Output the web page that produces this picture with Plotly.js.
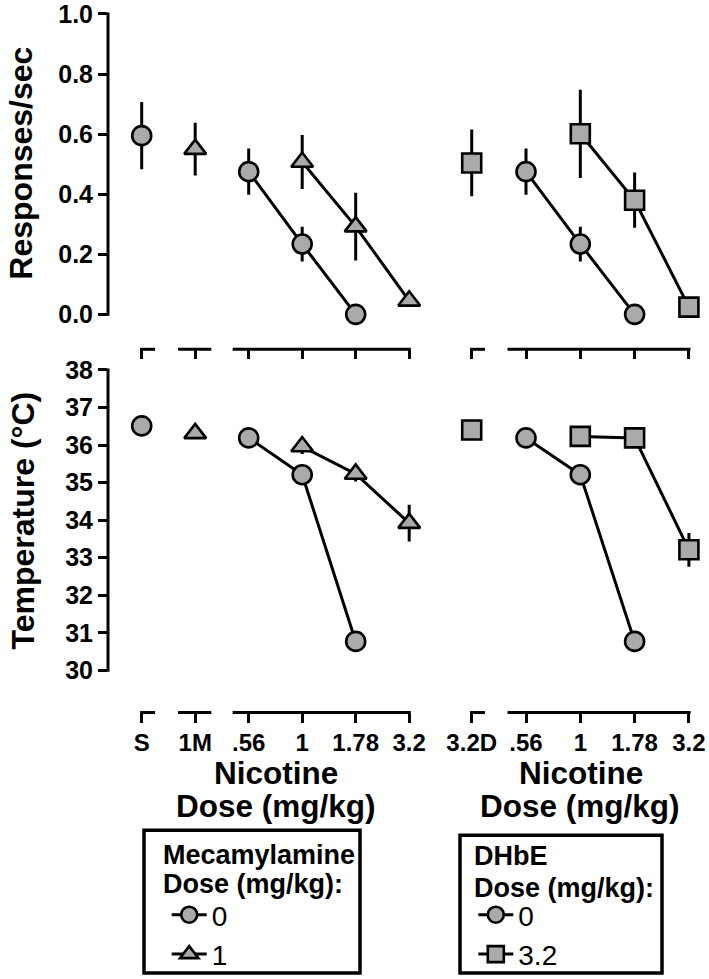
<!DOCTYPE html>
<html><head><meta charset="utf-8">
<script src="https://cdn.plot.ly/plotly-3.0.1.min.js"></script>
<style>html,body{margin:0;padding:0;background:#fff}</style>
</head><body><div id="chart" style="width:709px;height:979px"></div>
<script>
// ---------------- DATA ----------------
const leftCats  = ['S', '1M', '.56', '1', '1.78', '3.2'];
const rightCats = ['3.2D', '.56', '1', '1.78', '3.2'];

// Left panel: mecamylamine
const salineCats     = ['S'];
const salineRate     = [0.595];
const salineRateErr  = [0.112];
const salineTemp     = [36.51];
const salineTempErr  = [0.15];

const mecAloneCats    = ['1M'];
const mecAloneRate    = [0.55];
const mecAloneRateErr = [0.088];
const mecAloneTemp    = [36.31];
const mecAloneTempErr = [0.15];

const nicCats     = ['.56', '1', '1.78'];
const nicRate     = [0.475, 0.234, 0.0];
const nicRateErr  = [0.077, 0.058, 0.0];
const nicTemp     = [36.19, 35.21, 30.77];
const nicTempErr  = [0.15, 0.2, 0.2];

const nicMecCats    = ['1', '1.78', '3.2'];
const nicMecRate    = [0.507, 0.292, 0.045];
const nicMecRateErr = [0.09, 0.113, 0.0];
const nicMecTemp    = [35.96, 35.23, 33.92];
const nicMecTempErr = [0.2, 0.2, 0.49];

// Right panel: DHbE
const dhbeAloneCats    = ['3.2D'];
const dhbeAloneRate    = [0.504];
const dhbeAloneRateErr = [0.111];
const dhbeAloneTemp    = [36.40];
const dhbeAloneTempErr = [0.15];

const nicDhbeCats    = ['1', '1.78', '3.2'];
const nicDhbeRate    = [0.601, 0.38, 0.024];
const nicDhbeRateErr = [0.147, 0.092, 0.0];
const nicDhbeTemp    = [36.23, 36.19, 33.21];
const nicDhbeTempErr = [0.15, 0.15, 0.45];

const rateTicks = [0, 0.2, 0.4, 0.6, 0.8, 1.0];
const rateTickText = ['0.0', '0.2', '0.4', '0.6', '0.8', '1.0'];
const tempTicks = [30, 31, 32, 33, 34, 35, 36, 37, 38];

// ---------------- STYLE ----------------
const FONT = 'Liberation Sans, Arial, Helvetica, sans-serif';
const GRAY = '#aaaaaa';
const W = 709, H = 979;
const px = v => v / W;
const py = v => 1 - v / H;

const SYM = {
  circle:   {symbol: 'circle', size: 19},
  triangle: {symbol: 'triangle-up', size: 19},
  square:   {symbol: 'square', size: 19}
};

function trace(catList, cats, vals, errs, shape, xa, ya, mode, extra) {
  const t = {
    type: 'scatter',
    mode: mode,
    x: cats.map(c => catList.indexOf(c)),
    y: vals,
    xaxis: xa, yaxis: ya,
    cliponaxis: false,
    showlegend: false,
    line: {color: '#000', width: 3},
    marker: {symbol: SYM[shape].symbol, size: SYM[shape].size, color: GRAY,
             line: {color: '#000', width: 2.6}},
    error_y: {type: 'data', array: errs, visible: true, color: '#000', thickness: 3, width: 0}
  };
  return Object.assign(t, extra || {});
}

const data = [
  // top-left
  trace(leftCats, salineCats, salineRate, salineRateErr, 'circle', 'x', 'y', 'markers'),
  trace(leftCats, mecAloneCats, mecAloneRate, mecAloneRateErr, 'triangle', 'x', 'y', 'markers'),
  trace(leftCats, nicCats, nicRate, nicRateErr, 'circle', 'x', 'y', 'lines+markers',
        {showlegend: true, name: '0', legend: 'legend'}),
  trace(leftCats, nicMecCats, nicMecRate, nicMecRateErr, 'triangle', 'x', 'y', 'lines+markers',
        {showlegend: true, name: '1', legend: 'legend'}),
  // top-right
  trace(rightCats, dhbeAloneCats, dhbeAloneRate, dhbeAloneRateErr, 'square', 'x2', 'y2', 'markers'),
  trace(rightCats, nicCats, nicRate, nicRateErr, 'circle', 'x2', 'y2', 'lines+markers',
        {showlegend: true, name: '0', legend: 'legend2'}),
  trace(rightCats, nicDhbeCats, nicDhbeRate, nicDhbeRateErr, 'square', 'x2', 'y2', 'lines+markers',
        {showlegend: true, name: '3.2', legend: 'legend2'}),
  // bottom-left
  trace(leftCats, salineCats, salineTemp, salineTempErr, 'circle', 'x3', 'y3', 'markers'),
  trace(leftCats, mecAloneCats, mecAloneTemp, mecAloneTempErr, 'triangle', 'x3', 'y3', 'markers'),
  trace(leftCats, nicCats, nicTemp, nicTempErr, 'circle', 'x3', 'y3', 'lines+markers'),
  trace(leftCats, nicMecCats, nicMecTemp, nicMecTempErr, 'triangle', 'x3', 'y3', 'lines+markers'),
  // bottom-right
  trace(rightCats, dhbeAloneCats, dhbeAloneTemp, dhbeAloneTempErr, 'square', 'x4', 'y4', 'markers'),
  trace(rightCats, nicCats, nicTemp, nicTempErr, 'circle', 'x4', 'y4', 'lines+markers'),
  trace(rightCats, nicDhbeCats, nicDhbeTemp, nicDhbeTempErr, 'square', 'x4', 'y4', 'lines+markers')
];

// ---------------- LAYOUT ----------------
const topDom = [py(350), py(5)];
const botDom = [py(714), py(362)];
const leftDom = [px(108), px(430)];
const rightDom = [px(440), 1];
const leftRange = [-0.63, 5.389];
const rightRange = [-0.584, 4.37];
const rateRange = [-0.1163, 1.0299];
const tempRange = [28.876, 38.231];

function xAx(dom, rng, anchor, cats, labels) {
  return {
    domain: dom, range: rng, anchor: anchor, type: 'linear',
    tickmode: 'array', tickvals: cats.map((c, i) => i), ticktext: cats,
    showticklabels: labels, ticks: 'outside', ticklen: 9, tickwidth: 3, tickcolor: '#000',
    showline: false, showgrid: false, zeroline: false, fixedrange: true,
    ticklabeloverflow: 'allow',
    tickfont: {family: FONT, size: 24, color: '#000', weight: 'bold'}
  };
}
function yAx(dom, rng, anchor, vals, text, vis) {
  return {
    domain: dom, range: rng, anchor: anchor, visible: vis,
    tickmode: 'array', tickvals: vals, ticktext: text,
    ticks: 'outside', ticklen: 9, tickwidth: 3, tickcolor: '#000',
    showline: false, showgrid: false, zeroline: false, fixedrange: true,
    ticklabeloverflow: 'allow',
    tickfont: {family: FONT, size: 25, color: '#000', weight: 'bold'}
  };
}

const shapes = [];
function hseg(xref, yref, a, b) {
  shapes.push({type: 'line', xref: xref, yref: yref, x0: a, x1: b, y0: 0, y1: 0,
               line: {color: '#000', width: 3}});
}
[['x', 'y domain'], ['x3', 'y3 domain']].forEach(([xr, yr]) => {
  hseg(xr, yr, -0.03, 0.25);
  hseg(xr, yr, 0.68, 1.3);
  hseg(xr, yr, 1.7, 5.03);
});
[['x2', 'y2 domain'], ['x4', 'y4 domain']].forEach(([xr, yr]) => {
  hseg(xr, yr, -0.03, 0.245);
  hseg(xr, yr, 0.66, 4.03);
});
// y axis lines
shapes.push({type: 'line', xref: 'paper', yref: 'y', x0: px(108), x1: px(108),
             y0: rateTicks[0] - 0.005, y1: rateTicks[rateTicks.length - 1] + 0.005, line: {color: '#000', width: 3}});
shapes.push({type: 'line', xref: 'paper', yref: 'y3', x0: px(108), x1: px(108),
             y0: tempTicks[0] - 0.04, y1: tempTicks[tempTicks.length - 1] + 0.04, line: {color: '#000', width: 3}});
// legend boxes
shapes.push({type: 'rect', xref: 'paper', yref: 'paper', x0: px(144), x1: px(360), y0: py(975), y1: py(832),
             line: {color: '#000', width: 3.5}, fillcolor: 'rgba(0,0,0,0)'});
shapes.push({type: 'rect', xref: 'paper', yref: 'paper', x0: px(460), x1: px(662), y0: py(975), y1: py(837),
             line: {color: '#000', width: 3.5}, fillcolor: 'rgba(0,0,0,0)'});

function ann(text, x, y, size, opts) {
  return Object.assign({text: text, x: x, y: y, xref: 'paper', yref: 'paper', showarrow: false,
    xanchor: 'center', yanchor: 'middle',
    font: {family: FONT, size: size, color: '#000', weight: 'bold'}}, opts || {});
}

const annotations = [
  ann('Responses/sec', px(21), py(164), 32, {textangle: -90}),
  ann('Temperature (°C)', px(23), py(521.5), 32, {textangle: -90}),
  ann('Nicotine', px(275.5), py(775), 31.5),
  ann('Dose (mg/kg)', px(275.5), py(808), 31.5),
  ann('Nicotine', px(581), py(775), 31.5),
  ann('Dose (mg/kg)', px(580), py(808), 31.5),
  ann('Mecamylamine', px(161), py(857), 27, {xanchor: 'left'}),
  ann('Dose (mg/kg):', px(161), py(886), 27, {xanchor: 'left'}),
  ann('DHbE', px(472), py(858), 27, {xanchor: 'left'}),
  ann('Dose (mg/kg):', px(472), py(890), 27, {xanchor: 'left'})
];

function legendCfg(xLeft, yTop) {
  return {x: px(xLeft), y: py(yTop), xanchor: 'left', yanchor: 'top',
          bgcolor: 'rgba(0,0,0,0)', borderwidth: 0, itemwidth: 35, tracegroupgap: 0,
          traceorder: 'normal', itemclick: false, itemdoubleclick: false,
          font: {family: FONT, size: 28, color: '#000'}};
}

const layout = {
  width: W, height: H, autosize: false,
  margin: {l: 0, r: 0, t: 0, b: 0, pad: 0},
  paper_bgcolor: '#fff', plot_bgcolor: 'rgba(0,0,0,0)',
  showlegend: true,
  xaxis:  xAx(leftDom, leftRange, 'y', leftCats, false),
  xaxis2: xAx(rightDom, rightRange, 'y2', rightCats, false),
  xaxis3: xAx(leftDom, leftRange, 'y3', leftCats, true),
  xaxis4: xAx(rightDom, rightRange, 'y4', rightCats, true),
  yaxis:  yAx(topDom, rateRange, 'x', rateTicks, rateTickText, true),
  yaxis2: yAx(topDom, rateRange, 'x2', rateTicks, rateTickText, false),
  yaxis3: yAx(botDom, tempRange, 'x3', tempTicks, tempTicks.map(String), true),
  yaxis4: yAx(botDom, tempRange, 'x4', tempTicks, tempTicks.map(String), false),
  legend:  legendCfg(166.7, 892),
  legend2: legendCfg(473.3, 892),
  shapes: shapes,
  annotations: annotations
};

Plotly.newPlot('chart', data, layout, {displayModeBar: false, staticPlot: true});
</script></body></html>
